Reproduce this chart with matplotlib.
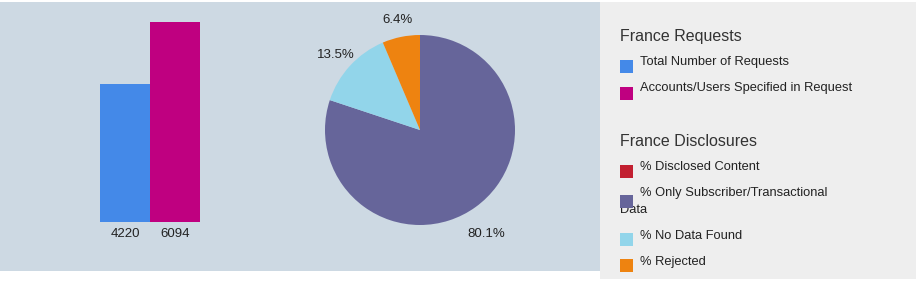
import matplotlib
matplotlib.use("Agg")
import matplotlib.pyplot as plt
from matplotlib.patches import Rectangle
import matplotlib.transforms as mtransforms

plt.rcParams['font.family'] = ['Liberation Sans', 'DejaVu Sans']

# Data
req_labels = ["Total Number of Requests", "Accounts/Users Specified in Request"]
req_values = [4220, 6094]
req_colors = ["#4489e8", "#bf0080"]

disc_labels = ["% Disclosed Content", "% Only Subscriber/Transactional\nData",
               "% No Data Found", "% Rejected"]
disc_values = [0.0, 80.1, 13.5, 6.4]
disc_colors = ["#c21f30", "#66659a", "#92d5ea", "#ee8310"]

W, H = 916, 286
fig = plt.figure(figsize=(W / 100, H / 100), dpi=100)
fig.patch.set_facecolor("white")

def fx(px):
    return px / W

def fy(py):
    return 1 - py / H

# Panels
fig.patches.append(Rectangle((fx(0), fy(271)), fx(600), fy(2) - fy(271),
                             transform=fig.transFigure, facecolor="#cdd9e3",
                             edgecolor="none", zorder=-2))
fig.patches.append(Rectangle((fx(600), fy(279)), fx(316), fy(2) - fy(279),
                             transform=fig.transFigure, facecolor="#eeeeee",
                             edgecolor="none", zorder=-2))

# Bar chart
axb = fig.add_axes([fx(100), fy(222), fx(100), fy(22) - fy(222)])
axb.set_zorder(1)
axb.set_facecolor("none")
xpos = [0.5, 1.5]
axb.bar(xpos, req_values, width=1.0, color=req_colors)
axb.set_xlim(0, 2)
axb.set_ylim(0, max(req_values))
axb.set_xticks(xpos)
axb.set_xticklabels([str(v) for v in req_values], fontsize=9.5, color="#222222")
axb.tick_params(axis="x", length=0, pad=4.5)
axb.set_yticks([])
for s in axb.spines.values():
    s.set_visible(False)

# Pie chart
R = 95
axp = fig.add_axes([fx(420 - R), fy(130 + R), fx(2 * R), fy(130 - R) - fy(130 + R)])
axp.set_zorder(1)
axp.set_facecolor("none")
vals = [v for v in disc_values if v > 0]
cols = [c for v, c in zip(disc_values, disc_colors) if v > 0]
wedges, texts = axp.pie(vals, colors=cols, startangle=90, counterclock=False,
                        labels=[f"{v:.1f}%" for v in vals], labeldistance=1.2,
                        wedgeprops=dict(linewidth=0),
                        textprops=dict(fontsize=9.5, color="#222222"))
for t in texts:
    t.set_ha("center")
    t.set_va("center")
    x, y = t.get_position()
    dy = -12 if y < 0 else -2
    t.set_transform(axp.transData + mtransforms.ScaledTranslation(0, dy / 100, fig.dpi_scale_trans))
axp.set_xlim(-1, 1)
axp.set_ylim(-1, 1)
axp.set_aspect("equal")
axp.axis("off")

# Legend
def square(px, py, color):
    fig.patches.append(Rectangle((fx(px), fy(py + 13)), fx(13), fy(py) - fy(py + 13),
                                 transform=fig.transFigure, facecolor=color,
                                 edgecolor="none", zorder=2))

fig.text(fx(620), fy(36), "France Requests", fontsize=11.5, color="#333333", va="center")
req_sq_y = [60, 87]
req_tx_y = [62, 88]
for lab, col, sy, ty in zip(req_labels, req_colors, req_sq_y, req_tx_y):
    square(620, sy, col)
    fig.text(fx(640), fy(ty), lab, fontsize=9.3, color="#222222", va="center")

fig.text(fx(620), fy(142), "France Disclosures", fontsize=11.5, color="#333333", va="center")
disc_sq_y = [165, 195, 233, 259]
disc_tx_y = [167, 193, 236, 262]
for lab, col, sy, ty in zip(disc_labels, disc_colors, disc_sq_y, disc_tx_y):
    square(620, sy, col)
    lines = lab.split("\n")
    fig.text(fx(640), fy(ty), lines[0], fontsize=9.3, color="#222222", va="center", zorder=3)
    if len(lines) > 1:
        fig.text(fx(620), fy(ty + 17), lines[1], fontsize=9.3, color="#222222",
                 va="center", zorder=1)

fig.savefig("out.png", dpi=100, facecolor=fig.get_facecolor())
